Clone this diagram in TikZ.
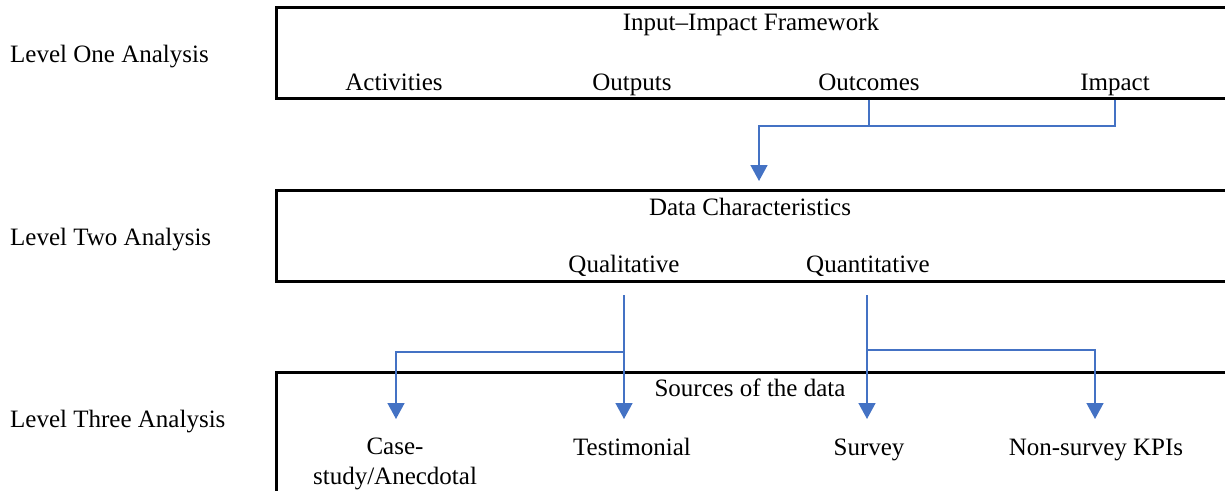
\documentclass[tikz,border=0pt]{standalone}
\usepackage{fontspec}
\setmainfont{Liberation Serif}
\usetikzlibrary{arrows.meta}
\definecolor{linkblue}{HTML}{4472C4}
\begin{document}
\begin{tikzpicture}[x=1pt,y=-1pt,
  lbl/.style={font=\fontsize{25}{30}\selectfont, anchor=base, inner sep=0pt},
  lvl/.style={lbl, anchor=base west},
  frame/.style={draw=black, line width=3pt, anchor=north west, inner sep=0pt},
  link/.style={draw=linkblue, line width=1.5pt},
  arr/.style={link, -{Triangle[width=17pt,length=16pt]}}]
\useasboundingbox (0,0) rectangle (1225,490);
\clip (0,0) rectangle (1225,490);
% boxes
\node[frame, minimum width=1000pt, minimum height=90.5pt] (box1) at (275,6) {};
\node[frame, minimum width=1000pt, minimum height=91pt] (box2) at (275,188.5) {};
\node[frame, minimum width=1000pt, minimum height=200pt] (box3) at (275,371) {};
% level labels
\node[lvl] (l1) at (10,62) {Level One Analysis};
\node[lvl] (l2) at (10,245) {Level Two Analysis};
\node[lvl] (l3) at (10,427) {Level Three Analysis};
% box 1
\node[lbl] (iif) at (751,30) {Input–Impact Framework};
\node[lbl] (act) at (394,90) {Activities};
\node[lbl] (outp) at (632,90) {Outputs};
\node[lbl] (outc) at (869,90) {Outcomes};
\node[lbl] (imp) at (1115,90) {Impact};
% box 2
\node[lbl] (dc) at (750,215) {Data Characteristics};
\node[lbl] (qual) at (624,272) {Qualitative};
\node[lbl] (quan) at (868,272) {Quantitative};
% box 3
\node[lbl] (src) at (750,396) {Sources of the data};
\node[lbl, align=center, anchor=north] (case) at (395,438) {Case-\\study/Anecdotal};
\node[lbl] (test) at (632,455) {Testimonial};
\node[lbl] (surv) at (869,455) {Survey};
\node[lbl] (kpi) at (1096,455) {Non-survey KPIs};
% coordinates
\coordinate (h1) at (759,126);
\coordinate (t1) at (759,181);
\coordinate (qs) at (624,295);
\coordinate (qh) at (624,352);
\coordinate (ns) at (867,295);
\coordinate (nh) at (867,350);
\coordinate (tc) at (396,419);
\coordinate (tt) at (624,419);
\coordinate (ts) at (867,419);
\coordinate (tk) at (1095,419);
% connectors level 1 -> 2
\draw[link] (box1.south -| outc) -- (outc |- h1);
\draw[arr] (box1.south -| imp) |- (h1) -- (t1);
% connectors level 2 -> 3
\draw[arr] (qs) -- (tt);
\draw[arr] (qh) -| (tc);
\draw[arr] (ns) -- (ts);
\draw[arr] (nh) -| (tk);
\end{tikzpicture}
\end{document}
